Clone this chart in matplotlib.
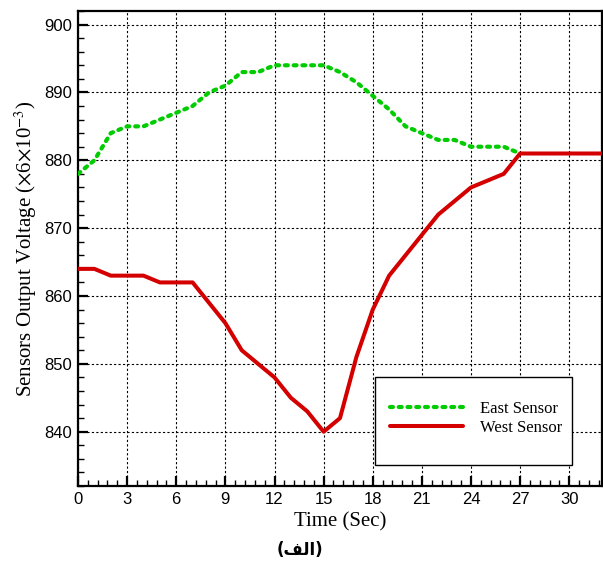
import matplotlib
matplotlib.use("Agg")
import matplotlib.pyplot as plt
from matplotlib.patches import Rectangle
from matplotlib.ticker import MultipleLocator

# time (s)
t_east = list(range(0, 28))
t_west = list(range(0, 33))

# sensor output voltage (x6x10^-3)
east = [878, 880, 884, 885, 885, 886, 887, 888, 890, 891,
        893, 893, 894, 894, 894, 894, 893, 891.5, 889.5, 887.5,
        885, 884, 883, 883, 882, 882, 882, 881]
west = [864, 864, 863, 863, 863, 862, 862, 862, 859, 856,
        852, 850, 848, 845, 843, 840, 842, 851, 858, 863,
        866, 869, 872, 874, 876, 877, 878, 881, 881, 881,
        881, 881, 881]

plt.rcParams['mathtext.fontset'] = 'stix'

fig = plt.figure(figsize=(6.03, 5.66), dpi=100)
ax = fig.add_axes([78 / 603, 80 / 566, 524 / 603, 475 / 566])

ax.plot(t_east, east, color='#00cc00', lw=3.0, linestyle=(0, (0.7, 1.4)),
        dash_capstyle='round', label='East Sensor', zorder=3)
ax.plot(t_west, west, color='#d40000', lw=2.9, solid_capstyle='round',
        label='West Sensor', zorder=4)

ax.set_xlim(0, 32)
ax.set_ylim(832, 902)
ax.xaxis.set_major_locator(MultipleLocator(3))
ax.xaxis.set_minor_locator(MultipleLocator(0.6))
ax.yaxis.set_major_locator(MultipleLocator(10))
ax.yaxis.set_minor_locator(MultipleLocator(2))

ax.grid(True, which='major', color='black', lw=0.8, linestyle=(0, (2, 2)))
ax.tick_params(which='major', direction='in', length=7, width=1.6,
               labelsize=12, pad=4)
ax.tick_params(which='minor', direction='in', length=4, width=1)
for lab in ax.get_xticklabels() + ax.get_yticklabels():
    lab.set_fontfamily('Liberation Sans')
for sp in ax.spines.values():
    sp.set_linewidth(1.6)

ax.set_xlabel('Time (Sec)', family='Liberation Serif', fontsize=15, labelpad=4)
ax.set_ylabel(r'Sensors Output Voltage ($\times$6$\times$10$^{-3}$)',
              family='Liberation Serif', fontsize=15, labelpad=4)

# legend box
bx, by, bw, bh = 0.567, 0.044, 0.376, 0.185
ax.add_patch(Rectangle((bx, by), bw, bh, transform=ax.transAxes,
                       facecolor='white', edgecolor='black', lw=1.0,
                       zorder=5))
leg = ax.legend(loc='center', bbox_to_anchor=(bx + bw / 2 + 0.004, by + bh / 2 + 0.006),
                prop={'family': 'Liberation Serif', 'size': 12},
                handlelength=4.4, handletextpad=1.0, labelspacing=0.15,
                frameon=False)
leg.set_zorder(6)

# caption "(الف)" written in shaped presentation forms, left to right
fig.text(0.497, 0.028, '(\uFED2\uFEDF\uFE8D)', ha='center', va='center',
         family='DejaVu Sans', fontweight='bold', fontsize=12)

fig.savefig('out.png', dpi=100)
